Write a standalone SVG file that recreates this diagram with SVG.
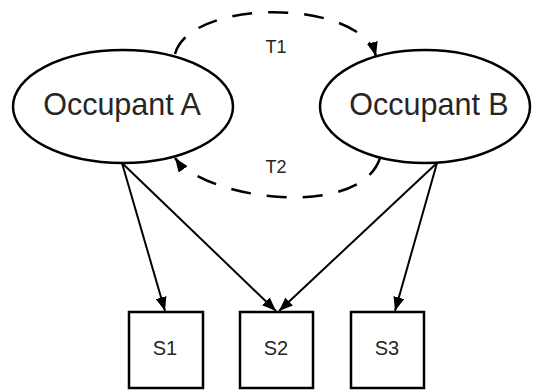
<svg xmlns="http://www.w3.org/2000/svg" width="533" height="390" viewBox="0 0 533 390">
<defs>
<style>
.node{fill:#fff;stroke:#000;stroke-width:2.5}
.lbl{font-family:"Liberation Sans",Arial,sans-serif;fill:#262626;text-anchor:middle}
.edge{fill:none;stroke:#000;stroke-width:2}
.dash{stroke-width:2.5;stroke-dasharray:20 16}
</style>
<marker id="ah" viewBox="0 0 14 11" refX="14" refY="5.5" markerWidth="14" markerHeight="11" markerUnits="userSpaceOnUse" orient="auto">
<path d="M0,0 L14,5.5 L0,11 Z" fill="#000"/>
</marker>
</defs>
<rect width="533" height="390" fill="#fff"/>
<g id="edges">
<path class="edge dash" d="M175,54 C190,-2 360,-2 376,56" marker-end="url(#ah)"/>
<path class="edge dash" d="M380,158 C360,220 205,200 175,158" marker-end="url(#ah)"/>
<line class="edge" x1="122" y1="163" x2="165" y2="311" marker-end="url(#ah)"/>
<line class="edge" x1="122" y1="163" x2="276" y2="311" marker-end="url(#ah)"/>
<line class="edge" x1="438" y1="162" x2="279" y2="311" marker-end="url(#ah)"/>
<line class="edge" x1="437" y1="163" x2="395" y2="311" marker-end="url(#ah)"/>
</g>
<g id="occupantA">
<ellipse class="node" cx="123" cy="106.5" rx="110" ry="56.5"/>
<text class="lbl" x="122" y="115" font-size="30.5">Occupant A</text>
</g>
<g id="occupantB">
<ellipse class="node" cx="425" cy="106.5" rx="105" ry="56.5"/>
<text class="lbl" x="429" y="115" font-size="30.5">Occupant B</text>
</g>
<g id="t1"><text class="lbl" x="276" y="53" font-size="18">T1</text></g>
<g id="t2"><text class="lbl" x="276" y="173" font-size="18">T2</text></g>
<g id="s1">
<rect class="node" x="129" y="312" width="74" height="76"/>
<text class="lbl" x="165" y="355" font-size="20">S1</text>
</g>
<g id="s2">
<rect class="node" x="240" y="312" width="73" height="76"/>
<text class="lbl" x="276" y="355" font-size="20">S2</text>
</g>
<g id="s3">
<rect class="node" x="351" y="312" width="73" height="76"/>
<text class="lbl" x="387" y="355" font-size="20">S3</text>
</g>
</svg>
